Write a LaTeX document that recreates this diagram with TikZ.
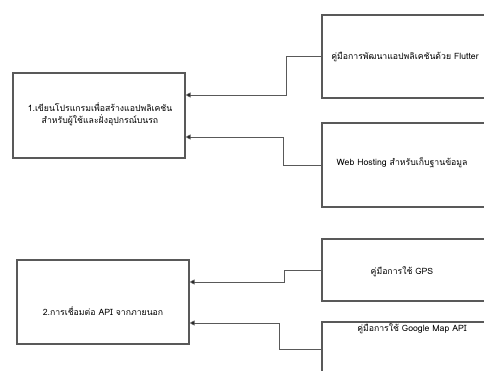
\documentclass[tikz,border=0pt]{standalone}
\usepackage{fontspec}
\setmainfont[Script=Thai]{Loma}
\usetikzlibrary{arrows.meta}
\tikzset{
  box/.style={draw=black!65, line width=1.1pt, rectangle, inner sep=0pt},
  conn/.style={draw=black!65, line width=0.9pt, -{Triangle[length=5pt,width=5pt,fill=black]}},
  txt/.style={font=\fontsize{8.7}{12.5}\selectfont, text=black, align=center, inner sep=0pt}
}
\begin{document}
\begin{tikzpicture}[x=1pt,y=-1pt]
\useasboundingbox (0,0) rectangle (484,371);
\clip (0,0) rectangle (484,371);
% left boxes
\node[box, minimum width=172pt, minimum height=85pt] (b1) at (99,115.5) {};
\node[box, minimum width=172pt, minimum height=84pt] (b2) at (103,302) {};
% right boxes (extend past the right edge)
\node[box, minimum width=180pt, minimum height=83pt] (f) at (412,56.5) {};
\node[box, minimum width=180pt, minimum height=84pt] (w) at (412,165) {};
\node[box, minimum width=180pt, minimum height=62pt] (g) at (412,270) {};
\node[box, minimum width=180pt, minimum height=54pt] (m) at (412,349) {};
% texts
\node[txt] (t1) at (100,114) {1.เขียนโปรแกรมเพื่อสร้างแอปพลิเคชัน\\สำหรับผู้ใช้และฝั่งอุปกรณ์บนรถ};
\node[txt] (t2) at (103,311) {2.การเชื่อมต่อ API จากภายนอก};
\node[txt] (tf) at (405,57) {คู่มือการพัฒนาแอปพลิเคชันด้วย Flutter};
\node[txt] (tw) at (402,163) {Web Hosting สำหรับเก็บฐานข้อมูล};
\node[txt] (tg) at (402,272) {คู่มือการใช้ GPS};
\node[txt] (tm) at (412,329) {คู่มือการใช้ Google Map API};
% connectors
\draw[conn] (f.west) -- ++(-35,0) |- ([yshift=20.5pt]b1.east);
\draw[conn] (w.west) -- ++(-38,0) |- ([yshift=-21.5pt]b1.east);
\draw[conn] (g.west) -- ++(-37,0) |- ([yshift=20pt]b2.east);
\draw[conn] (m.west) -- ++(-42,0) |- ([yshift=-21pt]b2.east);
\end{tikzpicture}
\end{document}
